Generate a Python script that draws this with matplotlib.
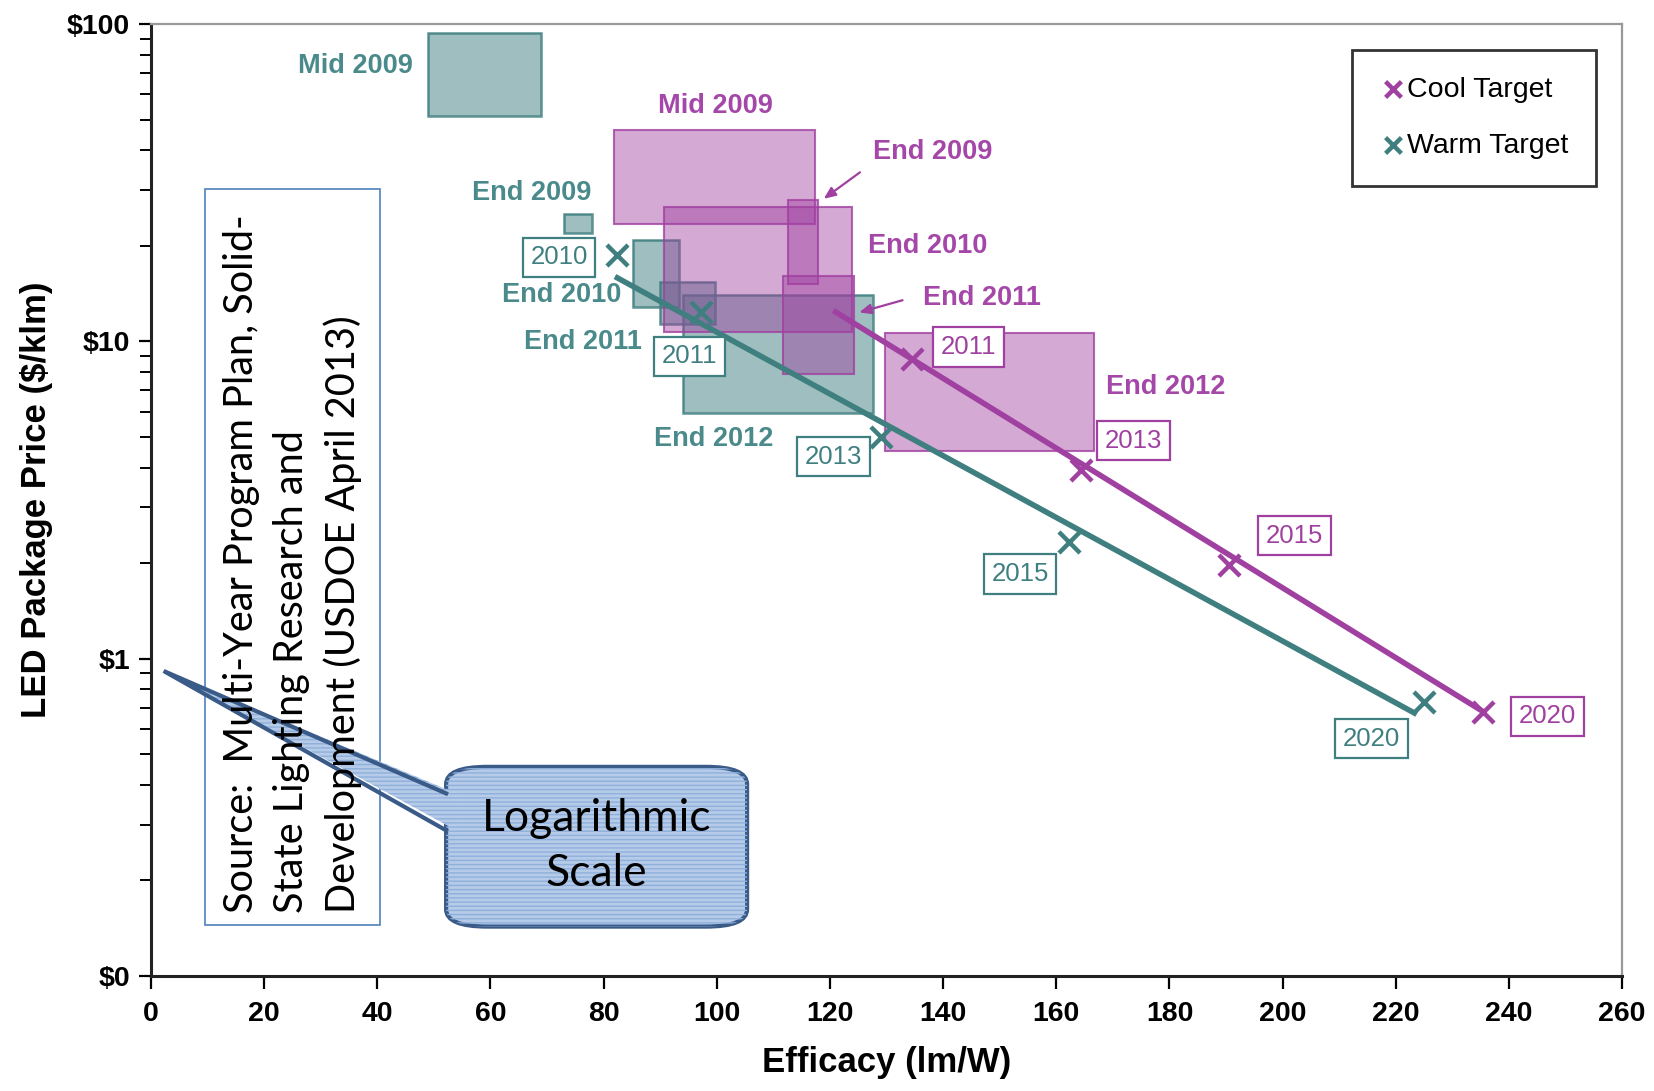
import matplotlib
matplotlib.use("Agg")
import matplotlib.pyplot as plt
from matplotlib.patches import Rectangle, FancyBboxPatch, Polygon
from matplotlib.ticker import FixedLocator, FixedFormatter, NullFormatter
import numpy as np

# ---------------- data ----------------
box_labels = ["Mid 2009", "End 2009", "End 2010", "End 2011", "End 2012"]

warm_x0 = [49.0, 73.0, 85.1, 89.9, 94.0]
warm_x1 = [69.0, 77.9, 93.3, 99.6, 127.6]
warm_y0 = [51.4, 22.0, 12.8, 11.35, 5.93]
warm_y1 = [94.0, 25.2, 20.8, 15.4, 14.0]

cool_x0 = [81.8, 90.7, 112.6, 111.7, 129.8]
cool_x1 = [117.4, 123.9, 117.8, 124.3, 166.7]
cool_y0 = [23.4, 10.7, 15.2, 7.9, 4.5]
cool_y1 = [46.4, 26.5, 27.9, 16.1, 10.6]

warm_years = ["2010", "2011", "2013", "2015", "2020"]
warm_eff = [82.4, 97.2, 129.1, 162.3, 225.0]
warm_price = [18.7, 12.4, 5.0, 2.33, 0.73]

cool_years = ["2011", "2013", "2015", "2020"]
cool_eff = [134.5, 164.4, 190.5, 235.5]
cool_price = [8.8, 3.93, 1.97, 0.68]

warm_line_x = [82.0, 223.7]
warm_line_y = [16.0, 0.668]
cool_line_x = [120.6, 235.5]
cool_line_y = [12.5, 0.68]

warm_yr_lab_x = [72.1, 95.2, 120.6, 153.6, 215.7]
warm_yr_lab_y = [18.4, 8.97, 4.33, 1.85, 0.56]
cool_yr_lab_x = [144.5, 173.7, 202.1, 246.8]
cool_yr_lab_y = [9.6, 4.86, 2.44, 0.658]

warm_grp_x = [36.2, 67.3, 72.5, 76.4, 99.4]
warm_grp_y = [73.6, 29.4, 13.95, 9.98, 4.93]
cool_grp_labels = ["Mid 2009", "End 2009", "End 2010", "End 2011", "End 2012"]
cool_grp_x = [99.7, 138.1, 137.2, 146.9, 179.3]
cool_grp_y = [55.0, 39.6, 20.0, 13.65, 7.18]

x_ticks = list(range(0, 261, 20))
y_ticks = [0.1, 1, 10, 100]
y_tick_labels = ["$0", "$1", "$10", "$100"]

# ---------------- style ----------------
TEAL = "#3f7f80"
TEAL_TXT = "#4a8a8b"
MAG = "#a040a0"
MAG_TXT = "#a447a8"
ARIAL = ["Liberation Sans", "DejaVu Sans"]
CAL = ["Lato", "DejaVu Sans"]

fig = plt.figure(figsize=(16.54, 10.91), dpi=100)
ax = fig.add_axes([0.0913, 0.1054, 0.8894, 0.8726])
ax.set_xlim(0, 260)
ax.set_yscale("log")
ax.set_ylim(0.1, 100)

# boxes
for x0, x1, y0, y1 in zip(warm_x0, warm_x1, warm_y0, warm_y1):
    ax.add_patch(Rectangle((x0, y0), x1 - x0, y1 - y0, fc=TEAL, alpha=0.5,
                           ec="none", zorder=2))
    ax.add_patch(Rectangle((x0, y0), x1 - x0, y1 - y0, fc="none", ec=TEAL,
                           lw=1.8, alpha=0.85, zorder=2.1))
for x0, x1, y0, y1 in zip(cool_x0, cool_x1, cool_y0, cool_y1):
    ax.add_patch(Rectangle((x0, y0), x1 - x0, y1 - y0, fc=MAG, alpha=0.45,
                           ec="none", zorder=2.2))
    ax.add_patch(Rectangle((x0, y0), x1 - x0, y1 - y0, fc="none", ec=MAG,
                           lw=1.5, alpha=0.8, zorder=2.3))

# trend lines
ax.plot(warm_line_x, warm_line_y, color=TEAL, lw=4, zorder=3, solid_capstyle="butt")
ax.plot(cool_line_x, cool_line_y, color=MAG, lw=4, zorder=3, solid_capstyle="butt")

# target markers
ax.scatter(cool_eff, cool_price, marker="x", s=230, lw=3.2, color=MAG, zorder=4,
           label="Cool Target")
ax.scatter(warm_eff, warm_price, marker="x", s=230, lw=3.2, color=TEAL, zorder=4,
           label="Warm Target")

# year labels
for t, x, y in zip(warm_years, warm_yr_lab_x, warm_yr_lab_y):
    ax.text(x, y, t, ha="center", va="center", fontsize=18.5, color=TEAL,
            family=ARIAL, zorder=6,
            bbox=dict(boxstyle="square,pad=0.3", fc="white", ec=TEAL, lw=1.6))
for t, x, y in zip(cool_years, cool_yr_lab_x, cool_yr_lab_y):
    ax.text(x, y, t, ha="center", va="center", fontsize=18.5, color=MAG,
            family=ARIAL, zorder=6,
            bbox=dict(boxstyle="square,pad=0.3", fc="white", ec=MAG, lw=1.6))

# group labels
for t, x, y in zip(box_labels, warm_grp_x, warm_grp_y):
    ax.text(x, y, t, ha="center", va="center", fontsize=19.5, color=TEAL_TXT,
            family=ARIAL, fontweight="bold", zorder=6)
for t, x, y in zip(cool_grp_labels, cool_grp_x, cool_grp_y):
    ax.text(x, y, t, ha="center", va="center", fontsize=19.5, color=MAG_TXT,
            family=ARIAL, fontweight="bold", zorder=6)

# arrows
ax.annotate("", xy=(118.5, 27.8), xytext=(125.7, 34.5),
            arrowprops=dict(arrowstyle="-|>,head_length=0.7,head_width=0.3",
                            color=MAG, lw=1.6), zorder=6)
ax.annotate("", xy=(124.7, 12.27), xytext=(133.3, 13.55),
            arrowprops=dict(arrowstyle="-|>,head_length=0.7,head_width=0.3",
                            color=MAG, lw=1.6), zorder=6)

# source box
ax.add_patch(Rectangle((9.5, 0.1445), 30.9, 30.1 - 0.1445, fc="white",
                       ec="#4f81bd", lw=1.2, zorder=7))

# callout (axes fraction coordinates)
FILL = "#b5cbe8"
HATCH = "#8fb0dc"
EDGE = "#3a5a88"
ax.add_patch(FancyBboxPatch((0.2006, 0.0519), 0.2046, 0.1678,
                            boxstyle="round,pad=0,rounding_size=0.028",
                            transform=ax.transAxes, fc=FILL, ec=EDGE,
                            lw=3, zorder=8, mutation_aspect=952 / 1471))
ax.add_patch(FancyBboxPatch((0.2006, 0.0519), 0.2046, 0.1678,
                            boxstyle="round,pad=0,rounding_size=0.028",
                            transform=ax.transAxes, fc="none", ec=HATCH,
                            lw=0, hatch="----", zorder=8.1,
                            mutation_aspect=952 / 1471))
wedge_pts = [(0.0086, 0.3204), (0.2075, 0.1918), (0.2075, 0.153)]
ax.add_patch(Polygon(wedge_pts, closed=True, transform=ax.transAxes, fc=FILL,
                     ec="none", zorder=8.2))
ax.add_patch(Polygon(wedge_pts, closed=True, transform=ax.transAxes, fc="none",
                     ec=HATCH, lw=0, hatch="----", zorder=8.25))
ax.plot([0.2006, 0.0086, 0.2006], [0.1918, 0.3204, 0.153], color=EDGE,
        lw=3, transform=ax.transAxes, zorder=8.3, solid_joinstyle="miter")
ax.text(0.3029, 0.1365, "Logarithmic\nScale", transform=ax.transAxes,
        ha="center", va="center", fontsize=32, family=CAL, color="black",
        linespacing=1.4, zorder=9)

# source text
ax.text(12.8, 0.158,
        "Source:  Multi-Year Program Plan, Solid-\nState Lighting Research and\nDevelopment (USDOE April 2013)",
        rotation=90, ha="left", va="bottom", multialignment="left",
        fontsize=28.5, family=CAL, color="black", linespacing=1.42, zorder=10)

# axes styling
ax.xaxis.set_major_locator(FixedLocator(x_ticks))
ax.xaxis.set_major_formatter(FixedFormatter([str(v) for v in x_ticks]))
ax.yaxis.set_major_locator(FixedLocator(y_ticks))
ax.yaxis.set_major_formatter(FixedFormatter(y_tick_labels))
ax.yaxis.set_minor_formatter(NullFormatter())
ax.tick_params(axis="both", which="major", direction="out", length=9, width=1.6,
               labelsize=20.5, pad=6)
ax.tick_params(axis="x", which="major", pad=9)
ax.tick_params(axis="y", which="minor", direction="out", length=8, width=1.4)
ax.tick_params(axis="x", which="minor", bottom=False)
for lab in ax.get_xticklabels() + ax.get_yticklabels():
    lab.set_family(ARIAL)
    lab.set_fontweight("bold")
for s in ["left", "bottom"]:
    ax.spines[s].set_linewidth(2.2)
    ax.spines[s].set_color("#222222")
for s in ["top", "right"]:
    ax.spines[s].set_linewidth(1.6)
    ax.spines[s].set_color("#999999")

ax.set_xlabel("Efficacy (lm/W)", fontsize=25, fontweight="bold", family=ARIAL,
              labelpad=14)
ax.set_ylabel("LED Package Price ($/klm)", fontsize=25, fontweight="bold",
              family=ARIAL, labelpad=10)

leg = ax.legend(loc="upper right", bbox_to_anchor=(0.982, 0.973), borderaxespad=0,
                frameon=True, fancybox=False, edgecolor="black",
                prop={"family": ARIAL, "size": 20.5}, handletextpad=0.0,
                labelspacing=1.05, borderpad=0.95, handlelength=1.0,
                scatterpoints=1, markerscale=0.75)
leg.get_frame().set_linewidth(2)
leg.set_zorder(11)

fig.savefig("out.png", dpi=100)
